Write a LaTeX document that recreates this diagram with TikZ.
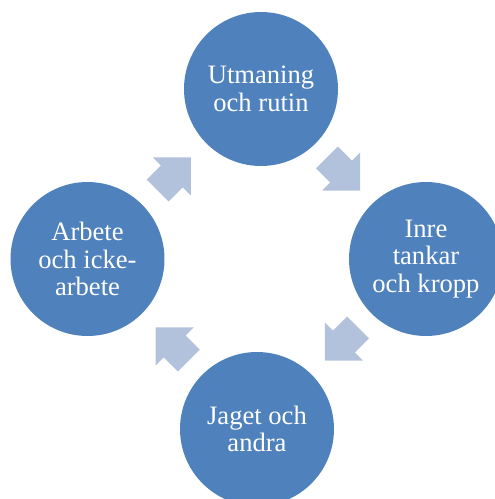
\documentclass[tikz,border=0pt]{standalone}
\usepackage{fontspec}
\setmainfont{Liberation Serif}
\usetikzlibrary{calc}
\definecolor{cycblue}{RGB}{79,129,189}
\definecolor{flowblue}{RGB}{178,194,220}
\begin{document}
\begin{tikzpicture}[
        x=1pt, y=1pt,
        stage/.style={circle, fill=cycblue, minimum size=154pt, inner sep=0pt, text=white, align=center, font=\fontsize{26.6}{27.6}\selectfont},
        flow/.style={fill=flowblue}
    ]
    \useasboundingbox (-257,-240) rectangle (238,259);
    \node[stage] (ut) at (4,170) {Utmaning\\och rutin};
    \node[stage] (in) at (169,0) {Inre\\tankar\\och kropp};
    \node[stage] (ja) at (0,-170) {Jaget och\\andra};
    \node[stage] (ar) at (-169.5,0) {Arbete\\och icke-\\arbete};
    \coordinate (f1) at ($(ut)!0.5!(in)$);
    \coordinate (f2) at ($(in)!0.5!(ja)$);
    \coordinate (f3) at ($(ja)!0.5!(ar)$);
    \coordinate (f4) at ($(ar)!0.5!(ut)$);
    \foreach \f/\a in {f1/-45, f2/-135, f3/135, f4/45}
        \fill[flow, shift={(\f)}, rotate=\a] (-23.5,15.5) -- (-3.5,15.5) -- (-3.5,27) -- (23.5,0)
            -- (-3.5,-27) -- (-3.5,-15.5) -- (-23.5,-15.5) -- cycle;
    \end{tikzpicture}
\end{document}
